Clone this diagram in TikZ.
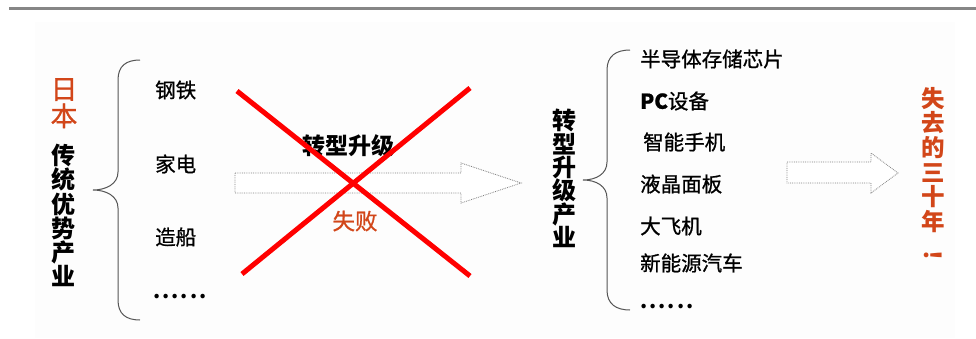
\documentclass[tikz,border=0pt]{standalone}
\usepackage{fontspec}
\setmainfont{Liberation Sans}
\newfontfamily\cjk{Noto Sans CJK SC}
\definecolor{jred}{RGB}{210,70,25}
\definecolor{brc}{RGB}{85,85,85}
\tikzset{
  vcol/.style={anchor=north, inner sep=0pt, align=center},
  item/.style={anchor=west, inner sep=0pt, font=\cjk\addfontfeature{FakeBold=0.9}\fontsize{20.5}{22}\selectfont},
  dots/.style={anchor=west, inner sep=0pt, font=\cjk\bfseries\addfontfeature{LetterSpace=10}\fontsize{20.5}{22}\selectfont},
  blockarrow/.style={draw=gray, densely dotted, line width=0.8pt, fill=white},
  xline/.style={red, line width=5pt},
  bracestyle/.style={draw=brc, line width=1pt},
}
\begin{document}
\begin{tikzpicture}[x=1pt,y=-1pt]
\useasboundingbox (0,0) rectangle (976,338);
\fill[black!0.8] (35,22) rectangle (955,338);
\draw[line width=2.5pt, gray!95] (9,8.5) -- (976,8.5);

% left column
\node[vcol, jred, font=\cjk\addfontfeature{FakeBold=0.8}\fontsize{27}{27}\selectfont] (jp) at (64,78) {日\\本};
\node[vcol, font=\cjk\bfseries\fontsize{24}{24.2}\selectfont] (trad) at (63,144) {传\\统\\优\\势\\产\\业};

% left brace
\draw[bracestyle] (140,60) .. controls (126,60) and (118,66) .. (118,80) -- (118,172)
  .. controls (118,184) and (106,190) .. (93,190)
  .. controls (106,190) and (118,196) .. (118,208) -- (118,300)
  .. controls (118,314) and (126,320) .. (140,320);

% left items
\node[item] (steel) at (155,90) {钢铁};
\node[item] (appl) at (155,164) {家电};
\node[item] (ship) at (155,237) {造船};
\node[dots] (ldots) at (153,297) {......};

% big arrow
\draw[blockarrow] (235,173) -- (461,173) -- (461,163) -- (521,183) -- (461,203) -- (461,193) -- (235,193) -- cycle;
\node[inner sep=0pt, font=\cjk\bfseries\fontsize{23}{25}\selectfont] (up) at (348,146) {转型升级};
\node[inner sep=0pt, jred, font=\cjk\addfontfeature{FakeBold=0.9}\fontsize{22.5}{24}\selectfont] (fail) at (355,221) {失败};

% red X
\draw[xline] (237,91) -- (470,276);
\draw[xline] (470,88) -- (242,274);

% right column
\node[vcol, font=\cjk\bfseries\fontsize{24}{23.4}\selectfont] (zx) at (564,109) {转\\型\\升\\级\\产\\业};

% right brace
\draw[bracestyle] (630,50) .. controls (616,50) and (607,56) .. (607,70) -- (607,162)
  .. controls (607,174) and (596,180) .. (583,180)
  .. controls (596,180) and (607,186) .. (607,198) -- (607,290)
  .. controls (607,304) and (616,310) .. (630,310);

% right items
\node[item] (chip) at (640,59) {半导体存储芯片};
\node[item] (pc) at (640,101) {\textbf{PC}设备};
\node[item] (phone) at (643,142) {智能手机};
\node[item] (lcd) at (640,184) {液晶面板};
\node[item] (plane) at (640,226) {大飞机};
\node[item] (ev) at (640,263) {新能源汽车};
\node[dots] (rdots) at (640,307) {......};

% small arrow
\draw[blockarrow] (787,162) -- (871,162) -- (871,153) -- (898,173) -- (871,193) -- (871,183) -- (787,183) -- cycle;

% lost decades
\node[vcol, jred, font=\cjk\bfseries\fontsize{23.5}{24.6}\selectfont] (lost) at (933,87) {失\\去\\的\\三\\十\\年\\[15pt]\rotatebox[origin=c]{-90}{！}};
\end{tikzpicture}
\end{document}
